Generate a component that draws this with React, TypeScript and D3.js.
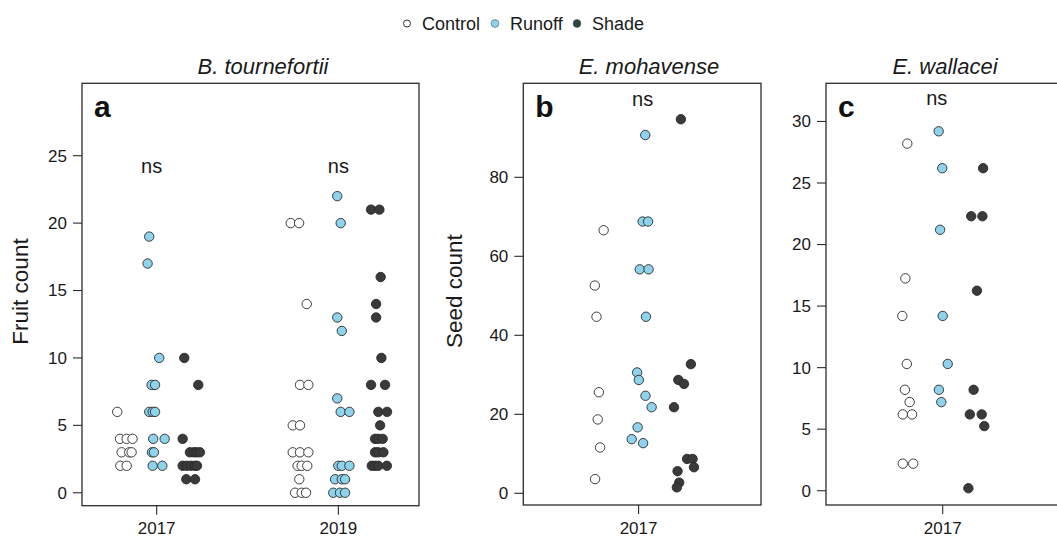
import React from "react";
import * as d3 from "d3";

// Treatments shared by all panels
const treatments = ["Control", "Runoff", "Shade"];
const treatmentFill = ["#ffffff", "#8ed3eb", "#3a3a3d"];
const legendFill = ["#ffffff", "#8ed3eb", "#2c4646"];

// Panel a: B. tournefortii fruit counts, [jittered x position, count]; 2017 = 1, 2019 = 2
const btControl = [
  [0.783, 6], [0.798, 4], [0.835, 4], [0.867, 4], [0.807, 3], [0.849, 3], [0.862, 3], [0.8, 2], [0.835, 2],
  [1.738, 20], [1.784, 20], [1.826, 14], [1.789, 8], [1.835, 8], [1.749, 5], [1.789, 5],
  [1.749, 3], [1.789, 3], [1.835, 3], [1.776, 2], [1.798, 2], [1.829, 2], [1.785, 1],
  [1.762, 0], [1.798, 0], [1.822, 0],
];
const btRunoff = [
  [0.959, 19], [0.95, 17], [1.014, 10], [0.972, 8], [0.991, 8], [0.959, 6], [0.978, 6], [0.991, 6],
  [0.981, 4], [1.044, 4], [0.974, 3], [0.985, 3], [0.978, 2], [1.031, 2],
  [1.994, 22], [2.013, 20], [1.994, 13], [2.019, 12], [1.994, 7], [2.013, 6], [2.061, 6],
  [2.0, 2], [2.019, 2], [2.061, 2], [1.982, 1], [2.019, 1], [2.037, 1], [1.972, 0], [2.009, 0], [2.037, 0],
];
const btShade = [
  [1.152, 10], [1.229, 8], [1.143, 4], [1.183, 3], [1.205, 3], [1.22, 3], [1.238, 3],
  [1.143, 2], [1.166, 2], [1.189, 2], [1.211, 2], [1.222, 2], [1.163, 1], [1.211, 1],
  [2.18, 21], [2.226, 21], [2.233, 16], [2.208, 14], [2.208, 13], [2.237, 10], [2.18, 8], [2.257, 8],
  [2.22, 6], [2.268, 6], [2.23, 5], [2.202, 4], [2.219, 4], [2.244, 4], [2.202, 3], [2.219, 3], [2.248, 3],
  [2.184, 2], [2.202, 2], [2.22, 2], [2.267, 2],
];

// Panel b: E. mohavense seed counts (2017 = 1)
const emControl = [[0.853, 66.6], [0.816, 52.6], [0.823, 44.7], [0.833, 25.6], [0.828, 18.7], [0.838, 11.6], [0.817, 3.6]];
const emRunoff = [
  [1.028, 90.7], [1.017, 68.8], [1.04, 68.8], [1.005, 56.7], [1.042, 56.7], [1.031, 44.7], [0.994, 30.6],
  [1.001, 28.7], [1.029, 24.7], [1.055, 21.8], [0.996, 16.7], [0.971, 13.7], [1.019, 12.7],
];
const emShade = [
  [1.178, 94.7], [1.22, 32.7], [1.167, 28.7], [1.191, 27.7], [1.149, 21.8], [1.204, 8.7], [1.227, 8.7],
  [1.233, 6.6], [1.164, 5.6], [1.171, 2.7], [1.161, 1.5],
];

// Panel c: E. wallacei seed counts (2017 = 1)
const ewControl = [[0.851, 28.2], [0.843, 17.25], [0.83, 14.2], [0.849, 10.3], [0.841, 8.2], [0.861, 7.2], [0.832, 6.2], [0.871, 6.2], [0.832, 2.2], [0.876, 2.2]];
const ewRunoff = [[0.983, 29.2], [0.998, 26.2], [0.989, 21.2], [1.0, 14.2], [1.021, 10.3], [0.984, 8.2], [0.994, 7.2]];
const ewShade = [[1.17, 26.2], [1.12, 22.3], [1.167, 22.3], [1.144, 16.25], [1.13, 8.2], [1.114, 6.2], [1.164, 6.2], [1.175, 5.25], [1.108, 0.2]];

// Axis ticks
const btYTicks = [0, 5, 10, 15, 20, 25];
const emYTicks = [0, 20, 40, 60, 80];
const ewYTicks = [0, 5, 10, 15, 20, 25, 30];
const btYears = [[1, "2017"], [2, "2019"]];
const singleYear = [[1, "2017"]];

const FONT = "'Liberation Sans', Arial, Helvetica, sans-serif";
const W = 1057;
const H = 537;

type Panel = {
  title: string;
  titleX: number;
  letter: string;
  yLabel?: string;
  yLabelX?: number;
  box: [number, number, number, number]; // left, top, right, bottom
  xDomain: [number, number];
  yDomain: [number, number];
  yTicks: number[];
  xTicks: (string | number)[][];
  series: number[][][];
  ns: [number, number][];
};

const panels: Panel[] = [
  {
    title: "B. tournefortii",
    titleX: 263,
    letter: "a",
    yLabel: "Fruit count",
    yLabelX: 28,
    box: [82, 83.3, 419, 505.7],
    xDomain: [0.589, 2.444],
    yDomain: [-0.96, 30.37],
    yTicks: btYTicks,
    xTicks: btYears,
    series: [btControl, btRunoff, btShade],
    ns: [[0.972, 23.7], [2.0, 23.7]],
  },
  {
    title: "E. mohavense",
    titleX: 649,
    letter: "b",
    yLabel: "Seed count",
    yLabelX: 461.5,
    box: [523.3, 83.3, 761, 505],
    xDomain: [0.515, 1.515],
    yDomain: [-2.96, 103.8],
    yTicks: emYTicks,
    xTicks: singleYear,
    series: [emControl, emRunoff, emShade],
    ns: [[1.017, 98.0]],
  },
  {
    title: "E. wallacei",
    titleX: 945,
    letter: "c",
    box: [826, 83.3, 1063.7, 505],
    xDomain: [0.509, 1.509],
    yDomain: [-1.16, 33.1],
    yTicks: ewYTicks,
    xTicks: singleYear,
    series: [ewControl, ewRunoff, ewShade],
    ns: [[0.975, 31.3]],
  },
];

function StripPanel({ p }: { p: Panel }) {
  const [left, top, right, bottom] = p.box;
  const x = d3.scaleLinear().domain(p.xDomain).range([left, right]);
  const y = d3.scaleLinear().domain(p.yDomain).range([bottom, top]);
  const midY = (top + bottom) / 2;
  return (
    <g>
      <text x={p.titleX} y={74} textAnchor="middle" fontStyle="italic" fontSize={22} fill="#1a1a1a">
        {p.title}
      </text>
      {p.series.map((pts, ti) => (
        <g key={ti}>
          {pts.map((d, i) => (
            <circle
              key={i}
              cx={x(d[0])}
              cy={y(d[1])}
              r={4.7}
              fill={treatmentFill[ti]}
              stroke="#2a2a2a"
              strokeWidth={0.9}
            />
          ))}
        </g>
      ))}
      <rect x={left} y={top} width={right - left} height={bottom - top} fill="none" stroke="#2b2b2b" strokeWidth={1.3} />
      {p.yTicks.map((t) => (
        <g key={t}>
          <line x1={left - 9} x2={left} y1={y(t)} y2={y(t)} stroke="#2b2b2b" strokeWidth={1.1} />
          <text x={left - 15} y={y(t)} dy="0.35em" textAnchor="end" fontSize={17} fill="#1a1a1a">
            {t}
          </text>
        </g>
      ))}
      {p.xTicks.map(([v, label]) => (
        <g key={String(label)}>
          <line x1={x(v as number)} x2={x(v as number)} y1={bottom} y2={bottom + 9} stroke="#2b2b2b" strokeWidth={1.1} />
          <text x={x(v as number)} y={533.5} textAnchor="middle" fontSize={17} fill="#1a1a1a">
            {label}
          </text>
        </g>
      ))}
      {p.ns.map(([nx, ny], i) => (
        <text key={i} x={x(nx)} y={y(ny)} textAnchor="middle" fontSize={20} fill="#1a1a1a">
          ns
        </text>
      ))}
      <text x={left + 12} y={117} fontSize={30} fontWeight="bold" fill="#111">
        {p.letter}
      </text>
      {p.yLabel && (
        <text
          transform={`translate(${p.yLabelX},${midY - 3}) rotate(-90)`}
          textAnchor="middle"
          fontSize={22.5}
          fill="#1a1a1a"
        >
          {p.yLabel}
        </text>
      )}
    </g>
  );
}

// Legend entries laid out left to right along the top
const legendMarkerX = [407, 495, 577];

export default function App() {
  return (
    <svg
      width={W}
      height={H}
      style={{ position: "absolute", left: 0, top: 0, display: "block", background: "#fff" }}
      fontFamily={FONT}
    >
      <rect width={W} height={H} fill="#fff" />
      <g>
        {treatments.map((t, i) => (
          <g key={t}>
            <circle
              cx={legendMarkerX[i]}
              cy={23.5}
              r={i === 0 ? 3.5 : 3.9}
              fill={legendFill[i]}
              stroke={i === 0 ? "#333" : "#555"}
              strokeWidth={i === 0 ? 1 : 0.6}
            />
            <text x={legendMarkerX[i] + 15} y={29.5} fontSize={18} fill="#1a1a1a">
              {t}
            </text>
          </g>
        ))}
      </g>
      {panels.map((p) => (
        <StripPanel key={p.letter} p={p} />
      ))}
    </svg>
  );
}
